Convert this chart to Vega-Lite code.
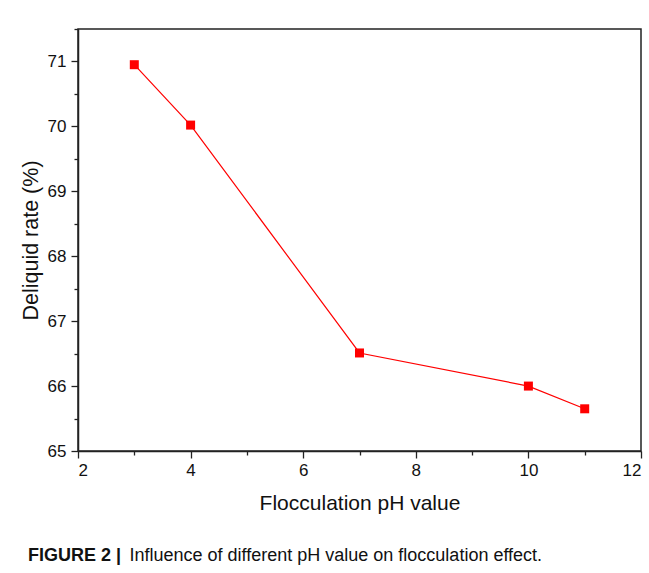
{
  "$schema": "https://vega.github.io/schema/vega-lite/v6.json",
  "width": 563,
  "height": 422,
  "autosize": "none",
  "padding": {"left": 78, "top": 29, "right": 8, "bottom": 122},
  "background": "white",
  "config": {
    "font": "Liberation Sans",
    "view": {"stroke": "#222222", "strokeWidth": 1.5},
    "axis": {"domainColor": "#222222", "domainWidth": 1.5, "tickColor": "#222222", "tickWidth": 1.3, "grid": false, "labelColor": "#111111", "titleColor": "#111111", "labelFont": "Liberation Sans", "titleFont": "Liberation Sans", "titleFontWeight": "normal"}
  },
  "title": {
    "text": "FIGURE 2 |",
    "orient": "bottom",
    "anchor": "start",
    "frame": "group",
    "dx": -50,
    "offset": -17,
    "font": "Liberation Sans",
    "fontSize": 18,
    "fontWeight": "bold",
    "color": "#111111"
  },
  "data": {"values": [
    {"pH": 3, "rate": 70.95},
    {"pH": 4, "rate": 70.02},
    {"pH": 7, "rate": 66.51},
    {"pH": 10, "rate": 66.0},
    {"pH": 11, "rate": 65.65}
  ]},
  "layer": [
    {
      "mark": {"type": "line", "color": "#ff0000", "strokeWidth": 1.2},
      "encoding": {
        "x": {"field": "pH", "type": "quantitative", "scale": {"domain": [2, 12], "nice": false, "zero": false},
          "axis": {"orient": "bottom", "values": [2, 4, 6, 8, 10, 12], "tickSize": 7, "labelFontSize": 17, "labelPadding": 4, "title": "Flocculation pH value", "titleFontSize": 21, "titlePadding": 14}},
        "y": {"field": "rate", "type": "quantitative", "scale": {"domain": [65, 71.5], "nice": false, "zero": false},
          "axis": {"orient": "left", "values": [65, 66, 67, 68, 69, 70, 71], "tickSize": 7, "labelFontSize": 17, "labelPadding": 5, "title": "Deliquid rate (%)", "titleFontSize": 21.5, "titlePadding": 5}}
      }
    },
    {
      "mark": {"type": "square", "size": 81, "color": "#ff0000", "filled": true, "opacity": 1},
      "encoding": {
        "x": {"field": "pH", "type": "quantitative",
          "axis": {"orient": "bottom", "values": [3, 5, 7, 9, 11], "tickSize": 4, "labels": false, "domain": false,
            "title": "Influence of different pH value on flocculation effect.", "titleFontSize": 18, "titleAlign": "left", "titleBaseline": "alphabetic", "titleX": 51, "titleY": 109, "titleAnchor": "start"}},
        "y": {"field": "rate", "type": "quantitative",
          "axis": {"orient": "left", "values": [65.5, 66.5, 67.5, 68.5, 69.5, 70.5, 71.5], "tickSize": 4, "labels": false, "domain": false, "title": null}}
      }
    }
  ],
  "resolve": {"axis": {"x": "independent", "y": "independent"}}
}
